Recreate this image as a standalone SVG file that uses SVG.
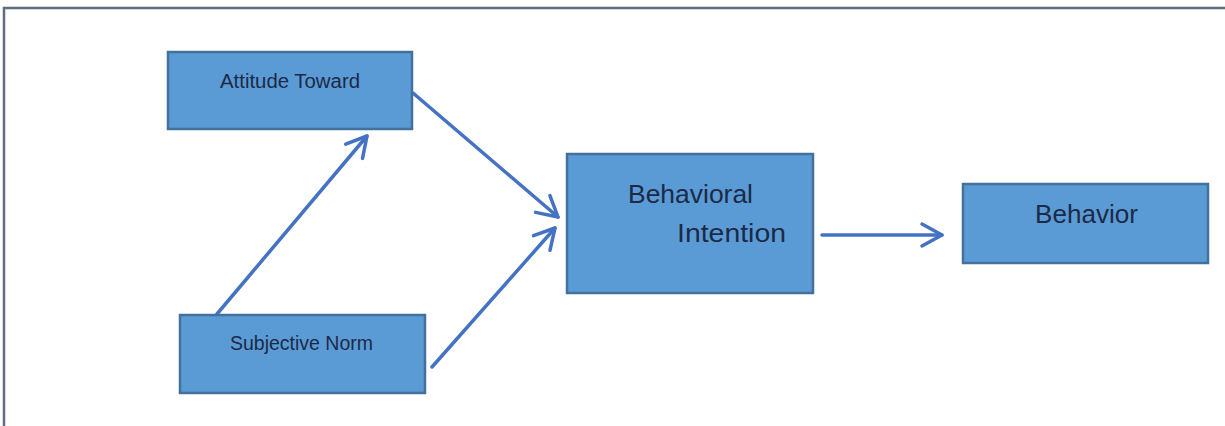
<svg xmlns="http://www.w3.org/2000/svg" width="1225" height="426" viewBox="0 0 1225 426">
<style>
.box{fill:#5B9BD5;stroke:#41719C;stroke-width:2.5}
.lbl{font-family:"Liberation Sans",Arial,sans-serif;fill:#1B2A47}
.sm{font-size:20px}
.lg{font-size:26px}
.con{stroke:#4472C4;stroke-width:3.5;fill:none;stroke-linecap:round}
</style>
<defs>
<marker id="arr" markerUnits="userSpaceOnUse" markerWidth="40" markerHeight="40" viewBox="-25 -20 40 40" refX="0" refY="0" orient="auto">
<path d="M-20,-11 L0,0 L-20,11" fill="none" stroke="#4472C4" stroke-width="3.5" stroke-linecap="round" stroke-linejoin="round"/>
</marker>
</defs>
<rect x="0" y="0" width="1225" height="426" fill="#ffffff"/>
<rect x="4" y="8" width="1260" height="460" fill="none" stroke="#5E6E7E" stroke-width="2.5"/>
<g id="connectors">
<line class="con" x1="413" y1="93" x2="558" y2="217" marker-end="url(#arr)"/>
<line class="con" x1="217" y1="314" x2="367" y2="136" marker-end="url(#arr)"/>
<line class="con" x1="432" y1="367" x2="555" y2="228" marker-end="url(#arr)"/>
<line class="con" x1="822" y1="235" x2="942" y2="235" marker-end="url(#arr)"/>
</g>
<g id="attitude">
<rect class="box" x="168" y="52" width="244" height="77"/>
<text class="lbl sm" x="220" y="88" textLength="140" lengthAdjust="spacingAndGlyphs">Attitude Toward</text>
</g>
<g id="subjective">
<rect class="box" x="180" y="315" width="245" height="78"/>
<text class="lbl sm" x="230" y="350" textLength="143" lengthAdjust="spacingAndGlyphs">Subjective Norm</text>
</g>
<g id="intention">
<rect class="box" x="567" y="154" width="246" height="139"/>
<text class="lbl lg" x="628" y="203" textLength="125" lengthAdjust="spacingAndGlyphs">Behavioral</text>
<text class="lbl lg" x="677" y="242" textLength="109" lengthAdjust="spacingAndGlyphs">Intention</text>
</g>
<g id="behavior">
<rect class="box" x="963" y="184" width="245" height="79"/>
<text class="lbl lg" x="1035" y="223" textLength="103" lengthAdjust="spacingAndGlyphs">Behavior</text>
</g>
</svg>
